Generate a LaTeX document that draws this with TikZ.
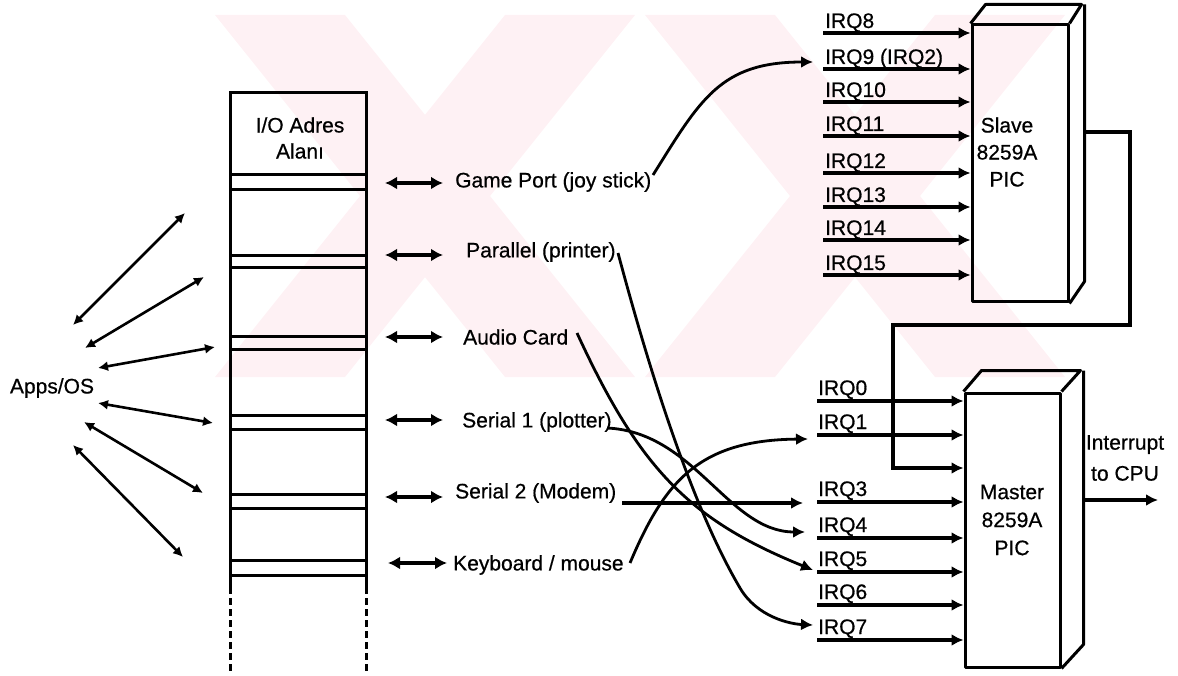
\documentclass[tikz,border=0pt]{standalone}
\usepackage{fontspec}
\setmainfont{Liberation Sans}[FakeBold=0.6]
\usetikzlibrary{arrows.meta}
\definecolor{wm}{RGB}{254,241,244}
\begin{document}
\begin{tikzpicture}[x=1pt,y=-1pt,
  lbl/.style={inner sep=0pt, font=\fontsize{21}{26}\selectfont},
  ln/.style={line width=3pt},
  dbl/.style={line width=4pt, {Latex[length=12pt,width=13pt]}-{Latex[length=12pt,width=13pt]}},
  appsarrow/.style={line width=2.6pt, {Latex[length=10pt,width=10pt]}-{Latex[length=10pt,width=10pt]}},
  irq/.style={line width=3.2pt, -{Latex[length=12pt,width=12pt]}},
  cv/.style={line width=2.8pt, -{Latex[length=12pt,width=12pt]}},
  boxline/.style={line width=3pt, line join=round},
]
\useasboundingbox (0,0) rectangle (1178,676);
% faint watermark
\begin{scope}
\clip (210,15) rectangle (1075,377);
\fill[wm] (215,15) -- (345,15) -- (635,377) -- (505,377) -- cycle;
\fill[wm] (505,15) -- (635,15) -- (345,377) -- (215,377) -- cycle;
\fill[wm] (645,15) -- (775,15) -- (1065,377) -- (935,377) -- cycle;
\fill[wm] (935,15) -- (1065,15) -- (775,377) -- (645,377) -- cycle;
\end{scope}

% I/O address column
\draw[ln] (230,587) -- (230,93) -- (366,93) -- (366,587);
\draw[ln, dash pattern=on 7pt off 4pt] (230,587) -- (230,672) (366,587) -- (366,672);
\foreach \a/\b in {175/190,256/268,336/349,415/429,494/508,560/575}
  \draw[ln] (230,\a) -- (366,\a) (230,\b) -- (366,\b);
\node[lbl, align=center] (hdr) at (300,138) {I/O Adres\\Alanı};

% Apps/OS
\node[lbl] (apps) at (52,388) {Apps/OS};
\coordinate (a1s) at (73,325);  \coordinate (a1e) at (185,213);
\coordinate (a2s) at (85,348);  \coordinate (a2e) at (204,277);
\coordinate (a3s) at (98,368);  \coordinate (a3e) at (215,347);
\coordinate (a4s) at (98,403);  \coordinate (a4e) at (213,423);
\coordinate (a5s) at (84,422);  \coordinate (a5e) at (203,493);
\coordinate (a6s) at (73,445);  \coordinate (a6e) at (183,557);
\foreach \i in {1,...,6} \draw[appsarrow] (a\i s) -- (a\i e);

% device labels and double arrows
\node[lbl, anchor=west] (game) at (455,182) {Game Port (joy stick)};
\node[lbl, anchor=west] (par)  at (466,252) {Parallel (printer)};
\node[lbl, anchor=west] (aud)  at (463,337) {Audio Card};
\node[lbl, anchor=west] (ser1) at (462,422) {Serial 1 (plotter)};
\node[lbl, anchor=west] (ser2) at (455,493) {Serial 2 (Modem)};
\node[lbl, anchor=west] (kbd)  at (453,565) {Keyboard / mouse};
\coordinate (d1l) at (385,183); \coordinate (d1r) at (443,183);
\coordinate (d2l) at (385,255); \coordinate (d2r) at (443,255);
\coordinate (d3l) at (385,337); \coordinate (d3r) at (443,337);
\coordinate (d4l) at (385,420); \coordinate (d4r) at (443,420);
\coordinate (d5l) at (385,497); \coordinate (d5r) at (443,497);
\coordinate (d6l) at (388,563); \coordinate (d6r) at (447,563);
\foreach \i in {1,...,6} \draw[dbl] (d\i l) -- (d\i r);

% Slave PIC
\node[boxline, draw, minimum width=96pt, minimum height=277pt, inner sep=0pt] (slave) at (1020,163.5) {};
\draw[boxline] (slave.north west) -- ++(15,-19) -- ++(96,0) -- (slave.north east)
  (slave.north east) ++(15,-19) -- ++(0,277) -- (slave.south east);
\node[lbl, align=center, font=\fontsize{21}{27}\selectfont] (slavetxt) at (1007,152) {Slave\\8259A\\PIC};
\foreach \y/\t [count=\i] in {33/IRQ8, 69/{IRQ9 (IRQ2)}, 102/IRQ10, 136/IRQ11, 173/IRQ12, 207/IRQ13, 240/IRQ14, 275/IRQ15}{
  \coordinate (si\i) at (823,\y);
  \draw[irq] (si\i) -- (si\i -| slave.west);
  \node[lbl, anchor=base west] (sl\i) at (825,\y-5) {\t};
}

% Master PIC
\node[boxline, draw, minimum width=95pt, minimum height=274pt, inner sep=0pt] (master) at (1012.5,530) {};
\draw[boxline] (master.north west) -- ++(18,-21) -- ++(99,0) -- (master.north east)
  (master.north east) ++(22,-21) -- ++(0,274) -- (master.south east);
\node[lbl, align=center, font=\fontsize{21}{28}\selectfont] (mastertxt) at (1012,520) {Master\\8259A\\PIC};
\foreach \y/\t [count=\i] in {401/IRQ0, 435/IRQ1, 502/IRQ3, 538/IRQ4, 572/IRQ5, 605/IRQ6, 640/IRQ7}{
  \coordinate (mi\i) at (817,\y);
  \draw[irq] (mi\i) -- (mi\i -| master.west);
  \node[lbl, anchor=base west] (ml\i) at (818,\y-6) {\t};
}

% slave output to master
\coordinate (so) at (1083,132);
\coordinate (c1) at (1130,132);
\coordinate (c2) at (1130,325);
\coordinate (c3) at (893,325);
\coordinate (c4) at (893,468);
\draw[irq] (so) -- (c1) -- (c2) -- (c3) -- (c4) -- (c4 -| master.west);

% interrupt to CPU
\coordinate (mo) at (1082,500);
\coordinate (cpuend) at (1158,500);
\draw[irq] (mo) -- (cpuend);
\node[lbl, align=center, font=\fontsize{21}{31}\selectfont] (cpu) at (1125,458) {Interrupt\\to CPU};

% device to IRQ connections
\coordinate (gs) at (653,175);  \coordinate (ge) at (813,62);
\coordinate (ps) at (618,253);  \coordinate (pm) at (740,588); \coordinate (pe) at (813,625);
\coordinate (as) at (577,333);  \coordinate (ae) at (813,570);
\coordinate (s1s) at (607,428); \coordinate (s1e) at (805,532);
\coordinate (s2s) at (622,503); \coordinate (s2e) at (803,503);
\coordinate (ks) at (630,563);  \coordinate (ke) at (808,439);
\draw[cv] (gs) .. controls (700,100) and (720,62) .. (ge);
\draw[cv] (ps) .. controls (660,410) and (700,520) .. (pm) .. controls (757,617) and (790,624) .. (pe);
\draw[cv] (as) .. controls (640,470) and (690,520) .. (ae);
\draw[cv] (s1s) .. controls (695,432) and (728,532) .. (s1e);
\draw[irq] (s2s) -- (s2e);
\draw[cv] (ks) .. controls (665,480) and (700,440) .. (ke);
\end{tikzpicture}
\end{document}
